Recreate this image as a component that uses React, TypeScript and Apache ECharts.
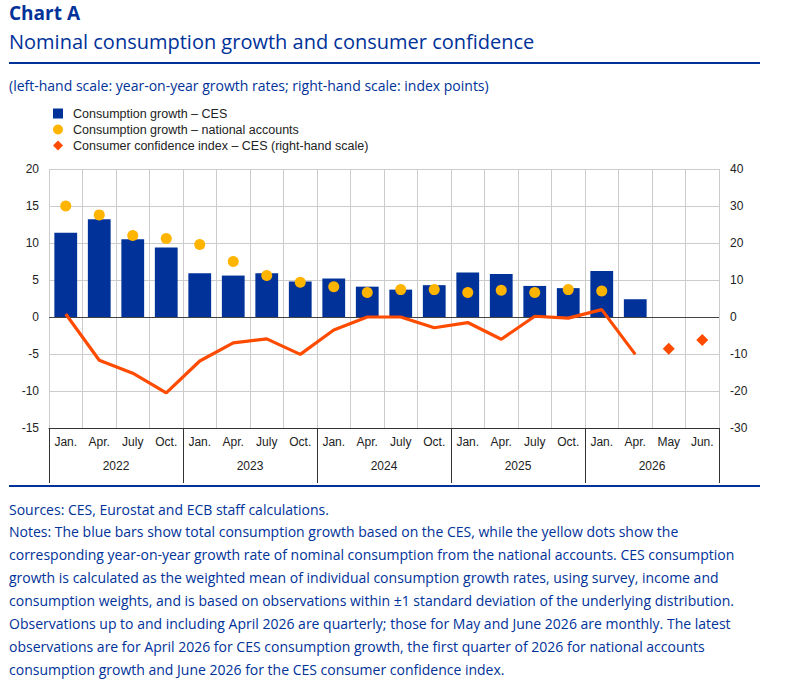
import React, { useEffect, useRef } from "react";
import * as echarts from "echarts";

const months = [
  "Jan.", "Apr.", "July", "Oct.",
  "Jan.", "Apr.", "July", "Oct.",
  "Jan.", "Apr.", "July", "Oct.",
  "Jan.", "Apr.", "July", "Oct.",
  "Jan.", "Apr.", "May", "Jun.",
];
const years = ["2022", "2023", "2024", "2025", "2026"];

const cesGrowth = [
  11.4, 13.2, 10.5, 9.4,
  5.9, 5.6, 5.9, 4.8,
  5.2, 4.1, 3.7, 4.3,
  6.0, 5.8, 4.2, 3.9,
  6.2, 2.4, null, null,
];
const nationalAccounts = [
  15.0, 13.8, 11.0, 10.6,
  9.8, 7.5, 5.6, 4.7,
  4.1, 3.3, 3.7, 3.7,
  3.3, 3.6, 3.3, 3.7,
  3.5, null, null, null,
];
const confidenceQuarterly = [
  0.8, -11.7, -15.2, -20.5,
  -11.9, -7.0, -5.9, -10.1,
  -3.5, 0.0, 0.0, -2.9,
  -1.5, -6.0, 0.2, -0.3,
  2.0, -10.1, null, null,
];
const confidenceMonthly = [
  null, null, null, null,
  null, null, null, null,
  null, null, null, null,
  null, null, null, null,
  null, null, -8.6, -6.2,
];

const titleText = "Chart A";
const subtitleText = "Nominal consumption growth and consumer confidence";
const unitText = "(left-hand scale: year-on-year growth rates; right-hand scale: index points)";
const seriesNames = [
  "Consumption growth – CES",
  "Consumption growth – national accounts",
  "Consumer confidence index – CES (right-hand scale)",
];
const noteLines = [
  "Sources: CES, Eurostat and ECB staff calculations.",
  "Notes: The blue bars show total consumption growth based on the CES, while the yellow dots show the",
  "corresponding year-on-year growth rate of nominal consumption from the national accounts. CES consumption",
  "growth is calculated as the weighted mean of individual consumption growth rates, using survey, income and",
  "consumption weights, and is based on observations within ±1 standard deviation of the underlying distribution.",
  "Observations up to and including April 2026 are quarterly; those for May and June 2026 are monthly. The latest",
  "observations are for April 2026 for CES consumption growth, the first quarter of 2026 for national accounts",
  "consumption growth and June 2026 for the CES consumer confidence index.",
];

const BLUE = "#003299";
const YELLOW = "#FFB400";
const ORANGE = "#FF4B00";
const TEXT = "#222222";
const GRID = "#cccccc";
const AXISF = "'Liberation Sans', Arial, sans-serif";
const TITLEF = "'Open Sans', 'Noto Sans', sans-serif";

export default function App() {
  const ref = useRef<HTMLDivElement>(null);
  useEffect(() => {
    if (!ref.current) return;
    const chart = echarts.init(ref.current, null, { renderer: "svg" });

    const graphics: any[] = [
      {
        type: "text",
        x: 9,
        y: 3,
        style: { text: titleText, fill: BLUE, font: `bold 19px ${TITLEF}`, verticalAlign: "top" },
      },
      {
        type: "text",
        x: 9,
        y: 41,
        style: { text: subtitleText, fill: BLUE, font: `20px ${TITLEF}`, verticalAlign: "middle" },
      },
      {
        type: "rect",
        shape: { x: 9, y: 62, width: 751, height: 2 },
        style: { fill: BLUE },
      },
      {
        type: "text",
        x: 9,
        y: 85,
        style: { text: unitText, fill: BLUE, font: `14px ${TITLEF}`, verticalAlign: "middle" },
      },
      {
        type: "rect",
        shape: { x: 9, y: 485, width: 751, height: 2 },
        style: { fill: BLUE },
      },
    ];
    noteLines.forEach((t, i) => {
      graphics.push({
        type: "text",
        x: 9,
        y: 509 + i * 22.9,
        style: { text: t, fill: BLUE, font: `14px ${TITLEF}`, verticalAlign: "middle" },
      });
    });

    chart.setOption({
      animation: false,
      backgroundColor: "#ffffff",
      grid: { left: 49, right: 70, top: 169, bottom: 254, containLabel: false },
      legend: {
        orient: "vertical",
        left: 48,
        top: 102,
        itemWidth: 10,
        itemHeight: 10,
        itemGap: 3,
        textStyle: { color: TEXT, fontSize: 12.5, fontFamily: AXISF, padding: [0, 0, 0, 5] },
        data: [
          { name: seriesNames[0], icon: "rect" },
          { name: seriesNames[1], icon: "circle" },
          { name: seriesNames[2], icon: "diamond", itemStyle: { color: ORANGE } },
        ],
      },
      xAxis: [
        {
          type: "category",
          data: months,
          position: "bottom",
          boundaryGap: true,
          axisLine: { show: true, onZero: false, lineStyle: { color: "#333333", width: 1 } },
          axisTick: { show: false },
          axisLabel: { color: TEXT, fontSize: 12, fontFamily: AXISF, margin: 8, interval: 0 },
          splitLine: { show: true, interval: 0, lineStyle: { color: GRID, width: 1 } },
        },
        {
          type: "category",
          data: years,
          position: "bottom",
          boundaryGap: true,
          axisLine: { show: false, onZero: false },
          axisTick: { show: true, length: 55, interval: 0, lineStyle: { color: "#333333", width: 1 } },
          axisLabel: { color: TEXT, fontSize: 12, fontFamily: AXISF, margin: 32, interval: 0 },
          splitLine: { show: false },
        },
      ],
      yAxis: [
        {
          type: "value",
          min: -15,
          max: 20,
          interval: 5,
          axisLine: { show: false },
          axisTick: { show: false },
          axisLabel: { color: TEXT, fontSize: 12, fontFamily: AXISF, margin: 10 },
          splitLine: { show: true, lineStyle: { color: GRID, width: 1 } },
        },
        {
          type: "value",
          min: -30,
          max: 40,
          interval: 10,
          position: "right",
          axisLine: { show: false },
          axisTick: { show: false },
          axisLabel: { color: TEXT, fontSize: 12, fontFamily: AXISF, margin: 11 },
          splitLine: { show: false },
        },
      ],
      series: [
        {
          name: seriesNames[0],
          type: "bar",
          data: cesGrowth,
          xAxisIndex: 0,
          yAxisIndex: 0,
          barWidth: "68%",
          itemStyle: { color: BLUE },
          z: 2,
          markLine: {
            silent: true,
            symbol: "none",
            label: { show: false },
            lineStyle: { color: "#444444", width: 1, type: "solid" },
            data: [{ yAxis: 0 }],
            z: 3,
          },
        },
        {
          name: seriesNames[1],
          type: "scatter",
          data: nationalAccounts,
          xAxisIndex: 0,
          yAxisIndex: 0,
          symbol: "circle",
          symbolSize: 11,
          itemStyle: { color: YELLOW, opacity: 1 },
          z: 4,
        },
        {
          name: seriesNames[2],
          type: "line",
          data: confidenceQuarterly,
          xAxisIndex: 0,
          yAxisIndex: 1,
          symbol: "none",
          showSymbol: false,
          lineStyle: { color: ORANGE, width: 3.2 },
          itemStyle: { color: ORANGE },
          z: 5,
        },
        {
          name: seriesNames[2],
          type: "scatter",
          data: confidenceMonthly,
          xAxisIndex: 0,
          yAxisIndex: 1,
          symbol: "diamond",
          symbolSize: 12,
          itemStyle: { color: ORANGE, opacity: 1 },
          z: 5,
        },
      ],
      graphic: graphics,
    });

    return () => chart.dispose();
  }, []);

  return <div ref={ref} style={{ width: 789, height: 682, position: "absolute", left: 0, top: 0 }} />;
}
